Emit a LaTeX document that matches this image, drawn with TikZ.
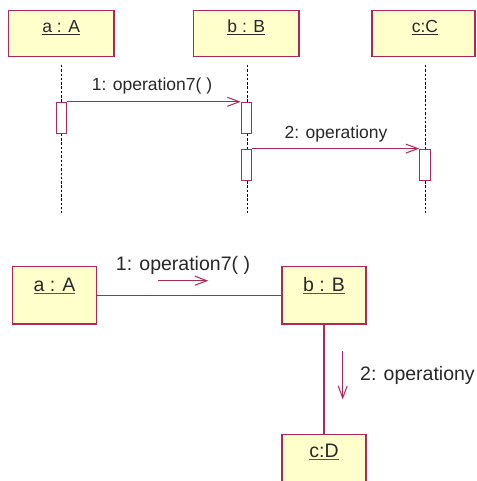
\documentclass[tikz,border=0pt]{standalone}
\usepackage{fontspec}
\setmainfont{Liberation Sans}
\usetikzlibrary{arrows.meta}
\definecolor{umlred}{RGB}{176,40,88}
\definecolor{umlfill}{RGB}{255,255,204}
\definecolor{txt}{RGB}{40,40,40}
\begin{document}
\begin{tikzpicture}[x=1pt,y=-1pt,
  objbox/.style={draw=umlred, fill=umlfill, line width=1.2pt, inner sep=0pt},
  actbox/.style={draw=umlred, fill=white, line width=1pt, minimum width=10.5pt, minimum height=31pt, inner sep=0pt},
  lifeline/.style={draw=black, line width=0.8pt, dash pattern=on 2.5pt off 1.8pt},
  msg/.style={draw=umlred, line width=1pt, -{Straight Barb[length=12pt,width=9pt]}},
  link/.style={draw=umlred, line width=1.1pt},
  toptext/.style={font=\fontsize{17.5}{20}\selectfont, text=txt, inner sep=0pt},
  bottext/.style={font=\fontsize{19.5}{22}\selectfont, text=txt, inner sep=0pt},
]
\useasboundingbox (0,0) rectangle (476,481);
\clip (0,0) rectangle (476,481);
\fill[white] (0,0) rectangle (476,481);

% ---------- sequence diagram ----------
\node[objbox, minimum width=105.7pt, minimum height=46pt] (ta) at (61.2,33.7) {};
\node[objbox, minimum width=105.3pt, minimum height=46pt] (tb) at (246.3,33.7) {};
\node[objbox, minimum width=103pt, minimum height=46pt] (tc) at (423.5,33.7) {};
\node[toptext, anchor=base] (tal) at ([yshift=-22.6pt]ta.north) {\underline{a : A}};
\node[toptext, anchor=base] (tbl) at ([yshift=-22.6pt]tb.north) {\underline{b : B}};
\node[toptext, anchor=base] (tcl) at ([yshift=-22.6pt,xshift=1.5pt]tc.north) {\underline{c:C}};

\coordinate (lat) at (61.7,65);  \coordinate (lab) at (61.7,213);
\coordinate (lbt) at (247,65);   \coordinate (lbb) at (247,213);
\coordinate (lct) at (425.5,65); \coordinate (lcb) at (425.5,213);
\draw[lifeline] (lat) -- (lab);
\draw[lifeline] (lbt) -- (lbb);
\draw[lifeline] (lct) -- (lcb);

\node[actbox] (acta) at (61.5,117.8) {};
\node[actbox] (actb1) at (246.5,117.8) {};
\node[actbox] (actb2) at (246.5,164.6) {};
\node[actbox] (actc) at (425,164.6) {};

\draw[msg] (acta.north east) -- (actb1.north west);
\node[toptext, anchor=base] (m1l) at (152,91) {1: operation7( )};
\draw[msg] (actb2.north east) -- (actc.north west);
\node[toptext, anchor=base] (m2l) at (336,139) {2: operationy};

% ---------- collaboration diagram ----------
\node[objbox, minimum width=84.4pt, minimum height=57.3pt] (ba) at (54.5,295.3) {};
\node[objbox, minimum width=84pt, minimum height=57.3pt] (bb) at (324,295.3) {};
\node[objbox, minimum width=84pt, minimum height=57.3pt] (bc) at (324,463.2) {};
\node[bottext, anchor=base] (bal) at ([yshift=-25.5pt]ba.north) {{\color{umlred}\underline{\color{txt}a : A}}};
\node[bottext, anchor=base] (bbl) at ([yshift=-25.5pt]bb.north) {{\color{umlred}\underline{\color{txt}b : B}}};
\node[bottext, anchor=base] (bcl) at ([yshift=-24pt]bc.north) {{\color{umlred}\underline{\color{txt}c:D}}};

\draw[link] (ba.east) -- (bb.west);
\draw[link] (bb.south) -- (bc.north);

\coordinate (m1s) at (158.3,280.7); \coordinate (m1e) at (208.3,280.7);
\draw[msg] (m1s) -- (m1e);
\node[bottext, anchor=base] (bm1l) at (183,270.7) {1: operation7( )};

\coordinate (m2s) at (342.7,350.7); \coordinate (m2e) at (342.7,399.3);
\draw[msg] (m2s) -- (m2e);
\node[bottext, anchor=base west] (bm2l) at (360,380) {2: operationy};
\end{tikzpicture}
\end{document}
